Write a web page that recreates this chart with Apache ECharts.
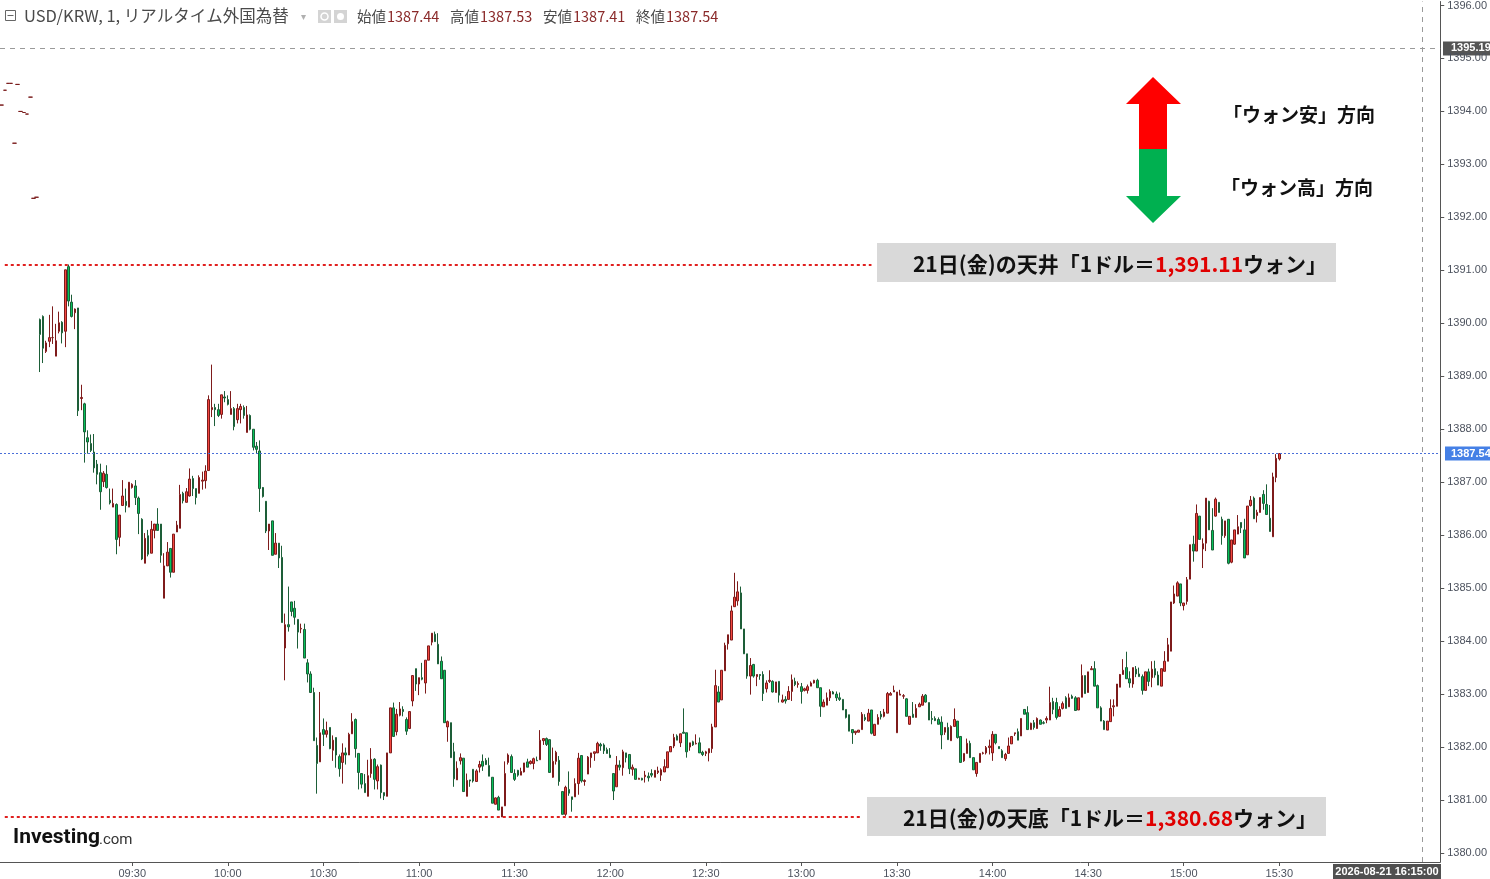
<!DOCTYPE html>
<html>
<head>
<meta charset="utf-8">
<script src="https://cdn.jsdelivr.net/npm/echarts@6/dist/echarts.min.js"></script>
<style>
  html, body { margin: 0; padding: 0; background: #fff; }
  #chart { width: 1490px; height: 879px; }
</style>
</head>
<body>
<div id="chart"></div>
<script>
// 1分足 USD/KRW 09:01〜15:30（始値・高値・安値・終値）
var open = [
  1390.07,1390.13,1389.47,1389.66,1389.73,1389.38,1389.85,1390.02,1389.85,1391.07,
  1390.40,1390.20,1390.29,1388.58,1388.48,1387.84,1387.73,1387.57,1387.34,1387.18,
  1387.01,1387.15,1386.66,1386.53,1386.58,1385.96,1386.56,1386.64,1386.53,1386.90,
  1386.93,1386.70,1386.30,1385.47,1385.99,1385.66,1386.09,1386.21,1386.21,1384.81,
  1385.42,1385.75,1385.30,1386.06,1386.13,1386.79,1386.62,1386.74,1387.07,1386.88,
  1386.79,1387.02,1387.03,1387.22,1388.37,1388.41,1388.37,1388.28,1388.61,1388.56,
  1388.28,1388.39,1388.18,1388.37,1388.41,1387.94,1388.26,1388.00,1387.68,1387.59,
  1386.90,1386.64,1386.08,1386.27,1385.64,1385.85,1385.58,1383.87,1384.31,1384.74,
  1384.62,1384.41,1384.23,1384.22,1383.59,1383.38,1383.03,1382.03,1381.72,1382.33,
  1382.24,1382.37,1381.94,1382.18,1381.82,1381.71,1381.89,1381.85,1382.25,1382.52,
  1381.88,1381.50,1381.31,1381.07,1381.50,1381.77,1381.36,1381.66,1381.14,1381.07,
  1381.89,1382.74,1382.29,1382.60,1382.71,1382.52,1382.35,1382.87,1383.48,1383.19,
  1383.31,1383.21,1383.64,1383.98,1384.13,1383.94,1383.62,1383.45,1382.38,1382.46,
  1381.91,1381.38,1381.74,1381.79,1381.07,1381.38,1381.58,1381.35,1381.62,1381.73,
  1381.75,1381.65,1381.43,1380.92,1381.05,1380.68,1380.89,1381.71,1381.82,1381.50,
  1381.56,1381.47,1381.53,1381.72,1381.69,1381.69,1381.75,1381.76,1382.12,1382.16,
  1382.14,1381.43,1381.73,1381.75,1381.16,1380.73,1381.20,1381.06,1381.06,1381.31,
  1381.84,1381.35,1381.49,1381.80,1381.88,1381.89,1382.05,1382.04,1381.95,1381.85,
  1381.50,1381.25,1381.66,1381.61,1381.89,1381.86,1381.58,1381.59,1381.39,1381.41,
  1381.44,1381.45,1381.50,1381.43,1381.52,1381.47,1381.53,1381.61,1381.91,1382.02,
  1382.21,1382.08,1382.28,1382.27,1382.00,1382.10,1382.06,1382.08,1381.90,1381.88,
  1381.89,1381.97,1382.38,1383.04,1382.89,1383.44,1383.95,1384.02,1384.65,1384.76,
  1384.91,1384.23,1383.76,1383.34,1383.56,1383.33,1383.37,1383.37,1383.10,1383.24,
  1383.24,1383.03,1383.24,1382.85,1382.90,1382.90,1383.05,1383.24,1383.18,1383.14,
  1383.07,1383.07,1383.15,1383.21,1383.26,1383.12,1382.76,1382.79,1382.93,1383.04,
  1383.00,1382.93,1382.90,1382.71,1382.61,1382.33,1382.27,1382.28,1382.33,1382.56,
  1382.49,1382.70,1382.22,1382.43,1382.62,1382.58,1382.64,1382.98,1383.04,1382.27,
  1382.98,1382.96,1382.91,1382.43,1382.62,1382.56,1382.76,1382.79,1382.98,1382.84,
  1382.54,1382.54,1382.52,1382.47,1382.28,1382.37,1382.12,1382.39,1382.49,1382.20,
  1381.74,1381.88,1382.07,1381.80,1381.50,1381.71,1381.88,1381.89,1381.99,1381.89,
  1382.24,1382.01,1381.93,1381.78,1381.88,1382.06,1382.25,1382.29,1382.21,1382.71,
  1382.65,1382.33,1382.46,1382.35,1382.51,1382.46,1382.51,1382.51,1382.86,1382.84,
  1382.58,1382.73,1382.93,1382.76,1382.96,1382.93,1382.70,1382.94,1383.35,1383.03,
  1383.46,1383.48,1383.16,1382.74,1382.49,1382.32,1382.48,1382.76,1382.77,1383.13,
  1383.37,1383.50,1383.29,1383.19,1383.47,1383.38,1383.33,1383.07,1383.42,1383.31,
  1383.48,1383.36,1383.15,1383.43,1383.62,1383.81,1384.72,1384.85,1385.08,1384.67,
  1384.75,1385.17,1385.83,1385.70,1386.36,1385.74,1385.85,1386.64,1386.09,1386.36,
  1386.62,1386.30,1385.99,1386.30,1385.49,1385.83,1386.02,1386.24,1386.10,1385.63,
  1386.56,1386.70,1386.37,1386.43,1386.77,1386.58,1386.32,1385.97,1387.09,1387.44
];
var high = [
  1390.09,1390.15,1389.67,1390.16,1390.32,1389.99,1390.22,1390.04,1391.01,1391.11,
  1390.54,1390.28,1390.29,1388.84,1388.50,1387.98,1387.90,1387.91,1387.42,1387.35,
  1387.21,1387.32,1386.88,1386.88,1386.60,1386.38,1387.04,1386.88,1387.00,1386.98,
  1387.04,1386.73,1386.32,1386.04,1386.10,1386.27,1386.21,1386.51,1386.21,1385.66,
  1385.87,1385.75,1386.02,1386.27,1386.95,1386.82,1386.89,1387.26,1387.12,1386.88,
  1387.13,1387.20,1387.32,1388.64,1389.22,1388.48,1388.48,1388.65,1388.72,1388.64,
  1388.72,1388.42,1388.48,1388.48,1388.45,1388.44,1388.28,1388.00,1387.76,1387.79,
  1386.91,1386.64,1386.21,1386.27,1386.04,1385.85,1385.80,1384.52,1385.03,1384.74,
  1384.76,1384.41,1384.33,1384.33,1383.66,1383.43,1383.12,1382.18,1383.04,1382.54,
  1382.48,1382.37,1382.22,1382.18,1381.86,1382.07,1381.99,1382.27,1382.64,1382.54,
  1381.88,1381.50,1381.49,1381.76,1381.98,1381.79,1381.67,1381.67,1381.14,1381.89,
  1382.74,1382.84,1382.72,1382.85,1382.77,1382.56,1382.67,1383.35,1383.48,1383.31,
  1383.59,1383.64,1383.91,1384.15,1384.18,1384.15,1383.71,1383.45,1382.50,1382.46,
  1382.08,1381.73,1381.88,1381.79,1381.50,1381.38,1381.58,1381.58,1381.74,1381.86,
  1381.79,1381.80,1381.43,1381.05,1381.08,1380.87,1381.73,1381.88,1381.86,1381.58,
  1381.57,1381.61,1381.70,1381.78,1381.75,1381.80,1381.82,1382.32,1382.16,1382.18,
  1382.14,1381.99,1381.93,1381.83,1381.16,1381.27,1381.54,1381.06,1381.41,1381.89,
  1381.84,1381.39,1381.83,1381.89,1381.91,1382.10,1382.08,1382.07,1381.99,1381.98,
  1381.50,1381.83,1381.75,1381.95,1381.89,1381.86,1381.67,1381.59,1381.42,1381.42,
  1381.55,1381.52,1381.58,1381.56,1381.63,1381.60,1381.77,1381.91,1382.02,1382.25,
  1382.24,1382.25,1382.73,1382.27,1382.08,1382.12,1382.24,1382.18,1381.93,1381.93,
  1381.97,1382.44,1383.46,1383.15,1383.45,1383.97,1384.12,1384.67,1385.29,1385.13,
  1385.03,1384.23,1383.76,1383.68,1383.57,1383.37,1383.37,1383.43,1383.26,1383.45,
  1383.26,1383.23,1383.24,1382.99,1382.96,1383.15,1383.37,1383.31,1383.24,1383.21,
  1383.12,1383.18,1383.24,1383.27,1383.29,1383.12,1382.90,1383.03,1383.09,1383.06,
  1383.05,1383.03,1382.90,1382.71,1382.61,1382.33,1382.30,1382.32,1382.66,1382.62,
  1382.72,1382.70,1382.43,1382.62,1382.68,1382.72,1383.04,1383.04,1383.16,1383.04,
  1383.08,1383.00,1382.92,1382.58,1382.85,1382.81,1382.84,1383.00,1383.00,1382.84,
  1382.68,1382.58,1382.56,1382.58,1382.37,1382.46,1382.41,1382.73,1382.49,1382.20,
  1381.88,1382.16,1382.12,1381.80,1381.71,1381.88,1381.91,1382.02,1382.14,1382.30,
  1382.24,1382.01,1381.96,1381.89,1382.18,1382.20,1382.27,1382.35,1382.54,1382.71,
  1382.77,1382.46,1382.51,1382.56,1382.52,1382.49,1382.58,1383.14,1382.93,1382.93,
  1382.77,1382.86,1382.96,1383.01,1382.99,1382.96,1382.93,1383.56,1383.35,1383.42,
  1383.53,1383.62,1383.18,1382.77,1382.51,1382.49,1382.90,1382.90,1383.19,1383.38,
  1383.66,1383.80,1383.43,1383.50,1383.53,1383.50,1383.37,1383.42,1383.48,1383.62,
  1383.63,1383.43,1383.48,1383.81,1384.06,1384.74,1385.05,1385.13,1385.08,1384.72,
  1385.21,1385.82,1385.99,1386.58,1386.36,1385.94,1386.70,1386.65,1386.51,1386.71,
  1386.62,1386.35,1386.27,1386.30,1385.91,1386.10,1386.38,1386.24,1386.31,1386.55,
  1386.74,1386.73,1386.48,1386.71,1386.85,1386.96,1386.57,1387.18,1387.53,1387.54
];
var low = [
  1389.08,1389.25,1389.44,1389.55,1389.61,1389.38,1389.81,1389.62,1389.55,1390.32,
  1390.11,1389.89,1388.25,1388.36,1387.37,1387.54,1387.57,1387.18,1386.96,1386.48,
  1386.91,1386.88,1386.58,1386.53,1385.64,1385.79,1386.56,1386.43,1386.53,1386.88,
  1386.57,1386.02,1385.53,1385.47,1385.60,1385.66,1385.94,1386.09,1385.48,1384.81,
  1385.42,1385.20,1385.30,1386.06,1386.13,1386.60,1386.62,1386.73,1386.74,1386.58,
  1386.79,1386.86,1386.88,1387.22,1388.23,1388.06,1388.23,1388.20,1388.51,1388.45,
  1388.28,1387.98,1388.11,1388.11,1388.20,1387.94,1387.98,1387.60,1387.54,1386.44,
  1386.71,1386.04,1385.72,1385.62,1385.64,1385.38,1384.35,1383.26,1384.18,1384.47,
  1384.31,1383.86,1384.15,1383.68,1383.22,1383.03,1382.12,1381.12,1381.72,1382.02,
  1382.18,1381.96,1381.74,1381.61,1381.44,1381.31,1381.67,1381.85,1382.25,1381.80,
  1381.20,1381.22,1381.14,1381.07,1381.42,1381.20,1381.20,1381.03,1381.00,1381.07,
  1381.89,1382.20,1382.22,1382.58,1382.58,1382.23,1382.35,1382.77,1383.06,1382.98,
  1383.26,1383.01,1383.64,1383.92,1383.99,1383.57,1383.29,1382.46,1382.10,1381.80,
  1381.25,1381.38,1381.67,1381.16,1381.07,1381.25,1381.33,1381.35,1381.52,1381.55,
  1381.66,1381.45,1380.94,1380.92,1380.81,1380.68,1380.89,1381.67,1381.52,1381.36,
  1381.44,1381.47,1381.52,1381.62,1381.67,1381.58,1381.74,1381.76,1382.04,1382.02,
  1381.52,1381.42,1381.67,1381.27,1380.73,1380.70,1381.08,1380.78,1381.06,1381.10,
  1381.33,1381.27,1381.49,1381.61,1381.74,1381.89,1381.93,1381.87,1381.88,1381.80,
  1381.00,1381.25,1381.56,1381.46,1381.71,1381.49,1381.46,1381.39,1381.39,1381.37,
  1381.33,1381.35,1381.43,1381.43,1381.49,1381.36,1381.53,1381.61,1381.91,1381.98,
  1382.13,1382.00,1382.26,1381.80,1381.93,1382.02,1382.05,1381.89,1381.83,1381.83,
  1381.73,1381.89,1382.38,1382.85,1382.89,1383.44,1383.84,1384.02,1384.65,1384.67,
  1384.23,1383.76,1383.29,1382.99,1383.31,1383.15,1383.27,1382.87,1383.03,1383.21,
  1383.03,1383.03,1382.84,1382.84,1382.82,1382.90,1382.87,1383.15,1383.12,1382.82,
  1383.05,1383.01,1383.15,1383.20,1383.12,1382.57,1382.76,1382.79,1382.87,1383.00,
  1382.87,1382.87,1382.70,1382.54,1382.30,1382.06,1382.23,1382.28,1382.33,1382.49,
  1382.49,1382.24,1382.21,1382.43,1382.52,1382.56,1382.64,1382.98,1383.04,1382.27,
  1382.98,1382.91,1382.58,1382.42,1382.56,1382.56,1382.76,1382.79,1382.84,1382.51,
  1382.43,1382.49,1382.43,1381.96,1382.23,1382.14,1382.12,1382.39,1382.16,1381.71,
  1381.72,1381.88,1381.80,1381.57,1381.44,1381.71,1381.86,1381.86,1381.86,1381.74,
  1382.05,1381.97,1381.80,1381.74,1381.88,1382.06,1382.21,1382.13,1382.21,1382.62,
  1382.33,1382.33,1382.33,1382.35,1382.43,1382.43,1382.45,1382.51,1382.62,1382.52,
  1382.58,1382.71,1382.73,1382.76,1382.91,1382.69,1382.70,1382.94,1383.01,1383.03,
  1383.46,1383.15,1382.74,1382.49,1382.33,1382.32,1382.48,1382.58,1382.77,1383.13,
  1383.37,1383.29,1383.12,1383.12,1383.32,1383.33,1382.99,1383.07,1383.15,1383.13,
  1383.31,1383.17,1383.15,1383.43,1383.62,1383.81,1384.70,1384.85,1384.66,1384.58,
  1384.69,1385.17,1385.50,1385.70,1385.92,1385.38,1385.70,1386.10,1385.72,1386.35,
  1386.43,1385.82,1385.95,1385.45,1385.47,1385.82,1386.02,1386.04,1385.57,1385.63,
  1386.54,1386.31,1386.24,1386.43,1386.48,1386.39,1386.07,1385.97,1387.00,1387.41
];
var close = [
  1389.79,1389.53,1389.63,1389.73,1389.73,1389.67,1390.01,1389.82,1391.01,1390.42,
  1390.13,1390.27,1388.35,1388.60,1387.95,1387.76,1387.60,1387.27,1387.15,1386.82,
  1387.17,1386.90,1386.61,1386.60,1385.92,1386.38,1386.74,1386.56,1387.00,1386.96,
  1386.71,1386.41,1385.55,1385.94,1385.64,1386.11,1386.21,1386.09,1385.62,1385.42,
  1385.68,1385.30,1386.02,1386.19,1386.77,1386.65,1386.82,1387.06,1386.88,1386.71,
  1387.09,1387.04,1387.21,1388.56,1388.41,1388.37,1388.26,1388.65,1388.59,1388.47,
  1388.39,1388.05,1388.39,1388.43,1388.26,1388.27,1388.00,1387.66,1387.62,1386.88,
  1386.73,1386.08,1386.21,1385.62,1385.85,1385.57,1384.35,1384.31,1384.27,1384.56,
  1384.45,1384.17,1384.24,1383.68,1383.38,1383.03,1382.12,1381.69,1382.27,1382.24,
  1382.31,1381.97,1382.13,1381.85,1381.59,1381.89,1381.85,1382.24,1382.48,1381.97,
  1381.52,1381.30,1381.14,1381.46,1381.77,1381.39,1381.63,1381.14,1381.08,1381.89,
  1382.74,1382.20,1382.62,1382.72,1382.67,1382.30,1382.67,1383.35,1383.19,1383.31,
  1383.28,1383.64,1383.91,1384.15,1383.99,1383.57,1383.29,1382.46,1382.48,1381.80,
  1381.40,1381.60,1381.80,1381.16,1381.37,1381.36,1381.36,1381.55,1381.67,1381.64,
  1381.67,1381.45,1380.94,1381.04,1380.81,1380.87,1381.50,1381.85,1381.52,1381.39,
  1381.47,1381.54,1381.70,1381.62,1381.73,1381.78,1381.74,1382.13,1382.16,1382.05,
  1381.52,1381.73,1381.90,1381.35,1380.73,1381.24,1381.13,1381.01,1381.31,1381.79,
  1381.36,1381.37,1381.81,1381.89,1381.91,1382.07,1382.02,1381.93,1381.88,1381.80,
  1381.17,1381.66,1381.62,1381.91,1381.80,1381.59,1381.62,1381.39,1381.41,1381.38,
  1381.47,1381.42,1381.47,1381.56,1381.55,1381.57,1381.63,1381.91,1382.01,1382.18,
  1382.13,1382.25,1382.26,1381.91,1382.08,1382.04,1382.07,1381.89,1381.86,1381.91,
  1381.97,1382.38,1383.16,1382.85,1383.45,1383.92,1384.12,1384.57,1384.83,1384.93,
  1384.23,1383.76,1383.34,1383.54,1383.34,1383.37,1383.35,1383.01,1383.21,1383.26,
  1383.04,1383.23,1382.98,1382.89,1382.87,1383.05,1383.27,1383.18,1383.20,1383.05,
  1383.10,1383.14,1383.21,1383.26,1383.12,1382.77,1382.85,1382.93,1383.05,1383.00,
  1382.93,1382.90,1382.70,1382.56,1382.30,1382.27,1382.30,1382.32,1382.62,1382.52,
  1382.64,1382.26,1382.43,1382.56,1382.57,1382.66,1383.01,1383.01,1383.07,1383.04,
  1383.00,1382.97,1382.58,1382.58,1382.56,1382.73,1382.81,1382.96,1382.85,1382.51,
  1382.52,1382.50,1382.43,1382.23,1382.37,1382.14,1382.39,1382.52,1382.18,1381.71,
  1381.88,1382.07,1381.80,1381.57,1381.71,1381.88,1381.89,1381.99,1382.02,1382.24,
  1382.08,1381.97,1381.80,1381.86,1382.02,1382.20,1382.27,1382.13,1382.54,1382.62,
  1382.33,1382.45,1382.37,1382.54,1382.43,1382.45,1382.54,1382.84,1382.71,1382.56,
  1382.71,1382.82,1382.73,1382.93,1382.92,1382.69,1382.93,1383.35,1383.01,1383.42,
  1383.48,1383.15,1382.74,1382.49,1382.33,1382.49,1382.73,1382.78,1383.19,1383.37,
  1383.45,1383.29,1383.21,1383.50,1383.38,1383.33,1383.07,1383.42,1383.24,1383.47,
  1383.36,1383.17,1383.48,1383.62,1383.93,1384.74,1384.89,1385.10,1384.72,1384.72,
  1385.16,1385.82,1385.70,1386.41,1385.92,1385.84,1386.70,1386.10,1385.72,1386.68,
  1386.43,1385.99,1386.27,1385.47,1385.91,1386.10,1386.16,1386.14,1385.57,1386.55,
  1386.66,1386.31,1386.43,1386.71,1386.60,1386.39,1386.07,1387.10,1387.45,1387.54
];
// 前日の名残（08:49〜09:00 の小さな横線）
var preValues = [1394.12,1394.40,1394.53,1394.53,1393.40,1394.51,1394.00,1393.98,1393.95,1394.27,1392.36,1392.38];

var xTickLabels = ['09:30','10:00','10:30','11:00','11:30','12:00','12:30','13:00','13:30','14:00','14:30','15:00','15:30'];
var yTickLabels = [1380,1381,1382,1383,1384,1385,1386,1387,1388,1389,1390,1391,1392,1393,1394,1395,1396];
var headerValues = [['始値', 1387.44], ['高値', 1387.53], ['安値', 1387.41], ['終値', 1387.54]];
var dayHigh = 1391.11, dayLow = 1380.68;
var lastPrice = 1387.54, markPrice = 1395.19;

// 08:49〜16:20 の分刻みカテゴリ
var categories = [];
for (var t = 8 * 60 + 49; t <= 16 * 60 + 20; t++) {
  var h = Math.floor(t / 60), m = t % 60;
  categories.push((h < 10 ? '0' : '') + h + ':' + (m < 10 ? '0' : '') + m);
}
var firstIdx = categories.indexOf('09:01');
var empty = ['-', '-', '-', '-'];
var candleData = categories.map(function (c, i) {
  var k = i - firstIdx;
  if (k >= 0 && k < close.length) return [open[k], close[k], low[k], high[k]];
  return empty;
});
var preData = categories.map(function (c, i) {
  if (i < preValues.length) { var v = preValues[i]; return [v, v, v, v]; }
  return empty;
});

var myChart = echarts.init(document.getElementById('chart'));
var FONT = 'Liberation Sans';
var JP = 'Noto Sans CJK JP';

var option = {
  animation: false,
  grid: { left: 0, top: 0, width: 1443, height: 863 },
  xAxis: {
    type: 'category',
    data: categories,
    boundaryGap: true,
    axisLine: { lineStyle: { color: '#555' } },
    axisTick: {
      show: true, length: 4, alignWithLabel: true,
      interval: function (i, v) { return xTickLabels.indexOf(v) >= 0; },
      lineStyle: { color: '#555' }
    },
    axisLabel: {
      interval: function (i, v) { return xTickLabels.indexOf(v) >= 0; },
      color: '#4c525e', fontSize: 11, fontFamily: FONT, margin: 6
    },
    splitLine: { show: false }
  },
  yAxis: {
    type: 'value',
    position: 'right',
    min: 1379.83,
    max: 1396.075,
    splitNumber: 16,
    axisLine: { show: true, lineStyle: { color: '#555' } },
    axisTick: { show: true, length: 4, customValues: yTickLabels, lineStyle: { color: '#555' } },
    axisLabel: {
      customValues: yTickLabels,
      showMinLabel: true, showMaxLabel: true,
      color: '#4c525e', fontSize: 11, fontFamily: FONT, margin: 7,
      formatter: function (v) { return v.toFixed(2); }
    },
    splitLine: { show: false }
  },
  series: [
    {
      type: 'candlestick',
      data: preData,
      barWidth: 4,
      itemStyle: { color: '#7a1c1c', color0: '#7a1c1c', borderColor: '#7a1c1c', borderColor0: '#7a1c1c', borderWidth: 1 }
    },
    {
      type: 'candlestick',
      data: candleData,
      barWidth: 2,
      itemStyle: {
        color: '#f4473f', color0: '#05c25a',
        borderColor: '#7e1b1b', borderColor0: '#1d5e38', borderWidth: 1
      },
      markLine: {
        silent: true,
        symbol: 'none',
        label: { show: false },
        data: [
          { yAxis: markPrice, lineStyle: { color: '#9a9a9a', type: [5, 5], width: 1 } },
          { yAxis: lastPrice, lineStyle: { color: '#4a6fd8', type: [2, 2], width: 1 } },
          { xAxis: '16:15', lineStyle: { color: '#9a9a9a', type: [5, 5], width: 1 } },
          [
            { coord: ['08:50', dayHigh], lineStyle: { color: '#e0201f', type: [3, 3], width: 2 } },
            { coord: ['13:22', dayHigh] }
          ],
          [
            { coord: ['08:50', dayLow], lineStyle: { color: '#e0201f', type: [3, 3], width: 2 } },
            { coord: ['13:19', dayLow] }
          ]
        ]
      }
    }
  ]
};
myChart.setOption(option, true);

// 右軸の価格ラベルと注記
var yMark = myChart.convertToPixel({ yAxisIndex: 0 }, markPrice);
var yLast = myChart.convertToPixel({ yAxisIndex: 0 }, lastPrice);

var graphics = [
  // ヘッダー
  { type: 'rect', shape: { x: 5.5, y: 10.5, width: 10, height: 10 }, style: { fill: '#fff', stroke: '#666', lineWidth: 1 } },
  { type: 'line', shape: { x1: 7.5, y1: 15.5, x2: 13.5, y2: 15.5 }, style: { stroke: '#666', lineWidth: 1 } },
  { type: 'text', x: 24, y: 16, style: { text: 'USD/KRW, 1, リアルタイム外国為替', fontSize: 16.5, fontFamily: JP, fill: '#4a4a4a', textVerticalAlign: 'middle' } },
  { type: 'text', x: 303, y: 16, style: { text: '▾', fontSize: 10, fontFamily: JP, fill: '#b0b0b0', textAlign: 'center', textVerticalAlign: 'middle' } },
  { type: 'rect', shape: { x: 318, y: 10, width: 13, height: 13 }, style: { fill: '#d4d4d4' } },
  { type: 'circle', shape: { cx: 324.5, cy: 16.5, r: 3.5 }, style: { fill: 'none', stroke: '#fff', lineWidth: 1.5 } },
  { type: 'rect', shape: { x: 334, y: 10, width: 13, height: 13 }, style: { fill: '#d4d4d4' } },
  { type: 'circle', shape: { cx: 340.5, cy: 16.5, r: 3.5 }, style: { fill: '#fff' } },
  // ロゴ
  { type: 'text', x: 13, y: 838, style: { text: 'Investing', fontSize: 21, fontWeight: 'bold', fontFamily: 'Roboto', fill: '#111', textVerticalAlign: 'middle' } },
  { type: 'text', x: 99, y: 840, style: { text: '.com', fontSize: 15, fontFamily: 'Roboto', fill: '#333', textVerticalAlign: 'middle' } },
  // 日時ラベル
  { type: 'rect', shape: { x: 1333, y: 864, width: 108, height: 15 }, style: { fill: '#505050' } },
  { type: 'text', x: 1387, y: 871.5, style: { text: '2026-08-21 16:15:00', fontSize: 11, fontWeight: 'bold', fontFamily: FONT, fill: '#fff', textAlign: 'center', textVerticalAlign: 'middle' } },
  // 右軸の価格ラベル
  { type: 'rect', shape: { x: 1443, y: yMark - 7, width: 47, height: 14 }, style: { fill: '#555' } },
  { type: 'text', x: 1451, y: yMark, style: { text: markPrice.toFixed(2), fontSize: 11, fontWeight: 'bold', fontFamily: FONT, fill: '#fff', textVerticalAlign: 'middle' } },
  { type: 'rect', shape: { x: 1445, y: yLast - 7, width: 45, height: 14 }, style: { fill: '#4580e6' } },
  { type: 'text', x: 1451, y: yLast, style: { text: lastPrice.toFixed(2), fontSize: 11, fontWeight: 'bold', fontFamily: FONT, fill: '#fff', textVerticalAlign: 'middle' } },
  // 矢印
  { type: 'polygon', shape: { points: [[1153, 77], [1181, 104], [1167, 104], [1167, 149], [1139, 149], [1139, 104], [1126, 104]] }, style: { fill: '#ff0000' } },
  { type: 'polygon', shape: { points: [[1139, 149], [1167, 149], [1167, 196], [1181, 196], [1153, 223], [1126, 196], [1139, 196]] }, style: { fill: '#00b050' } },
  { type: 'text', x: 1223, y: 115, style: { text: '「ウォン安」方向', fontSize: 19, fontWeight: 'bold', fontFamily: JP, fill: '#111', textVerticalAlign: 'middle' } },
  { type: 'text', x: 1221, y: 188, style: { text: '「ウォン高」方向', fontSize: 19, fontWeight: 'bold', fontFamily: JP, fill: '#111', textVerticalAlign: 'middle' } },
  // 注記ボックス
  { type: 'rect', shape: { x: 877, y: 243, width: 459, height: 39 }, style: { fill: '#d9d9d9' } },
  { type: 'text', x: 1120, y: 264, style: {
      text: '{a|21日(金)の天井「1ドル＝}{r|1,391.11}{a|ウォン」}',
      textAlign: 'center', textVerticalAlign: 'middle',
      rich: {
        a: { fontSize: 21, fontWeight: 'bold', fontFamily: JP, fill: '#111' },
        r: { fontSize: 21, fontWeight: 'bold', fontFamily: JP, fill: '#e00000' }
      }
  } },
  { type: 'rect', shape: { x: 867, y: 797, width: 459, height: 39 }, style: { fill: '#d9d9d9' } },
  { type: 'text', x: 1110, y: 818, style: {
      text: '{a|21日(金)の天底「1ドル＝}{r|1,380.68}{a|ウォン」}',
      textAlign: 'center', textVerticalAlign: 'middle',
      rich: {
        a: { fontSize: 21, fontWeight: 'bold', fontFamily: JP, fill: '#111' },
        r: { fontSize: 21, fontWeight: 'bold', fontFamily: JP, fill: '#e00000' }
      }
  } }
];

// 始値・高値・安値・終値
var hx = [357, 450, 543, 636];
headerValues.forEach(function (hv, i) {
  graphics.push({ type: 'text', x: hx[i], y: 16, style: { text: hv[0], fontSize: 14.5, fontFamily: JP, fill: '#4a4a4a', textVerticalAlign: 'middle' } });
  graphics.push({ type: 'text', x: hx[i] + 30, y: 16, style: { text: hv[1].toFixed(2), fontSize: 14.5, fontFamily: JP, fill: '#8a2a2a', textVerticalAlign: 'middle' } });
});

myChart.setOption({ graphic: graphics });
</script>
</body>
</html>
